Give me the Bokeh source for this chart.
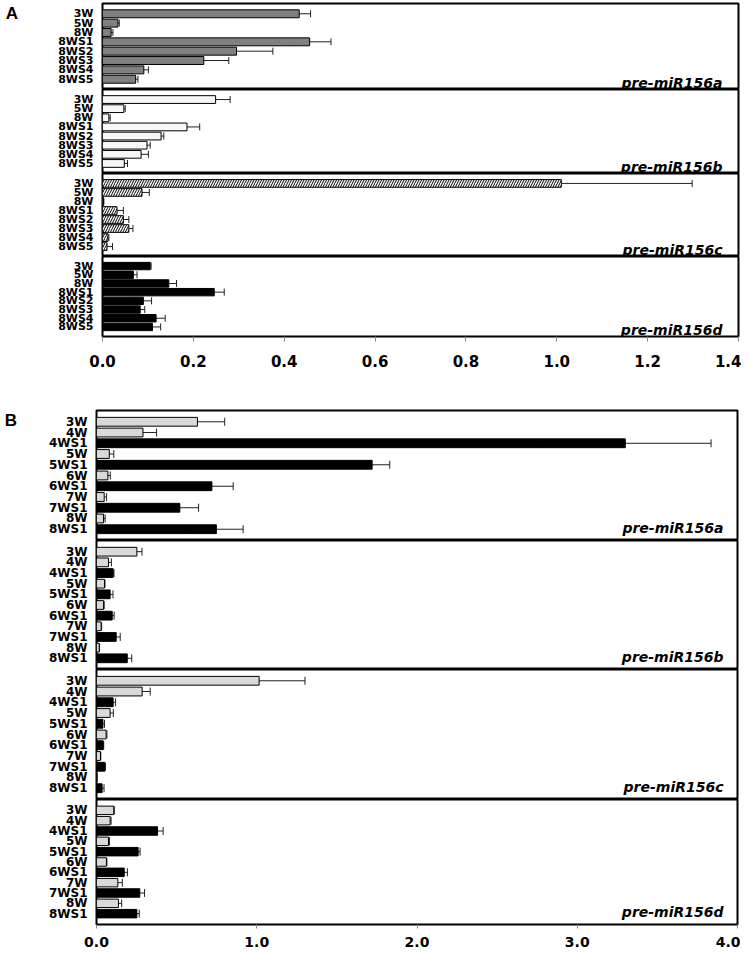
from bokeh.plotting import figure
from bokeh.models import (FactorRange, Range1d, FixedTicker, NumeralTickFormatter,
                          Whisker, TeeHead, ColumnDataSource, Label)
from bokeh.layouts import column
from bokeh.embed import file_html
from bokeh.resources import INLINE

# ---------------- data ----------------
a_samples = ["3W", "5W", "8W", "8WS1", "8WS2", "8WS3", "8WS4", "8WS5"]
a_156a = [0.433, 0.034, 0.019, 0.456, 0.295, 0.223, 0.091, 0.073]
a_156a_sd = [0.025, 0.003, 0.004, 0.047, 0.080, 0.055, 0.010, 0.005]
a_156b = [0.249, 0.047, 0.014, 0.186, 0.129, 0.098, 0.085, 0.048]
a_156b_sd = [0.032, 0.003, 0.003, 0.028, 0.006, 0.007, 0.016, 0.007]
a_156c = [1.010, 0.087, 0.002, 0.032, 0.046, 0.058, 0.012, 0.010]
a_156c_sd = [0.288, 0.016, 0.001, 0.014, 0.012, 0.009, 0.002, 0.012]
a_156d = [0.105, 0.068, 0.146, 0.246, 0.090, 0.083, 0.118, 0.110]
a_156d_sd = [0.002, 0.008, 0.017, 0.022, 0.018, 0.010, 0.020, 0.018]

b_samples = ["3W", "4W", "4WS1", "5W", "5WS1", "6W", "6WS1", "7W", "7WS1", "8W", "8WS1"]
b_156a = [0.630, 0.290, 3.300, 0.080, 1.720, 0.071, 0.720, 0.048, 0.520, 0.044, 0.748]
b_156a_sd = [0.170, 0.085, 0.535, 0.028, 0.110, 0.015, 0.133, 0.015, 0.117, 0.010, 0.167]
b_156b = [0.252, 0.075, 0.104, 0.050, 0.085, 0.044, 0.098, 0.029, 0.123, 0.017, 0.192]
b_156b_sd = [0.032, 0.018, 0.005, 0.003, 0.018, 0.004, 0.012, 0.003, 0.025, 0.002, 0.028]
b_156c = [1.015, 0.285, 0.104, 0.085, 0.040, 0.060, 0.042, 0.025, 0.052, 0.002, 0.035]
b_156c_sd = [0.286, 0.050, 0.015, 0.020, 0.010, 0.005, 0.003, 0.002, 0.004, 0.001, 0.012]
b_156d = [0.108, 0.085, 0.381, 0.075, 0.260, 0.062, 0.173, 0.133, 0.270, 0.137, 0.252]
b_156d_sd = [0.003, 0.006, 0.035, 0.006, 0.012, 0.003, 0.020, 0.028, 0.030, 0.020, 0.015]

genes = ["pre-miR156a", "pre-miR156b", "pre-miR156c", "pre-miR156d"]
a_ticks = [0.0, 0.2, 0.4, 0.6, 0.8, 1.0, 1.2, 1.4]
b_ticks = [0.0, 1.0, 2.0, 3.0, 4.0]

FONT = "DejaVu Sans"


def make_fig(samples, vals, sds, gene, x_range, fw, fh, left, top_b, bot_b,
             fills, hatch, pad, bar_h, head, gene_dx, gene_dy, cat_font,
             ticks=None, tick_font="15px", standoff=12, tick_out=5):
    src = ColumnDataSource(dict(
        s=samples, v=vals,
        lo=[v - e for v, e in zip(vals, sds)],
        hi=[v + e for v, e in zip(vals, sds)],
        c=fills,
    ))
    p = figure(
        y_range=FactorRange(factors=samples[::-1], range_padding=pad),
        x_range=x_range, frame_width=fw, frame_height=fh,
        min_border_left=left, min_border_right=3, min_border_top=top_b,
        min_border_bottom=bot_b, output_backend="svg", toolbar_location=None,
        x_axis_location="below" if ticks is not None else None,
    )
    kw = {}
    if hatch:
        kw = dict(hatch_pattern="/", hatch_color="black", hatch_scale=5.0,
                  hatch_weight=1.0)
    p.hbar(y="s", left=0, right="v", height=bar_h, source=src, fill_color="c",
           line_color="black", line_width=1, **kw)
    w = Whisker(source=src, base="s", lower="lo", upper="hi", dimension="width",
                line_color="#222222", line_width=1,
                upper_head=TeeHead(size=head, line_color="#222222", line_width=1),
                lower_head=TeeHead(size=head, line_color="#222222", line_width=1))
    p.add_layout(w)
    p.add_layout(Label(x=fw - gene_dx, y=gene_dy, x_units="screen", y_units="screen",
                       text=gene, text_align="right", text_baseline="alphabetic",
                       text_font=FONT, text_font_style="bold italic",
                       text_font_size="14px", text_color="black"))
    p.grid.visible = False
    p.outline_line_color = "black"
    p.outline_line_width = 2
    p.outline_line_alpha = 1.0
    p.background_fill_color = "white"
    p.border_fill_color = "white"
    ya = p.yaxis[0]
    ya.axis_line_color = None
    ya.major_tick_line_color = None
    ya.minor_tick_line_color = None
    ya.major_label_standoff = 3
    ya.major_label_text_font = FONT
    ya.major_label_text_font_style = "bold"
    ya.major_label_text_font_size = cat_font
    ya.major_label_text_color = "black"
    if ticks is not None:
        xa = p.xaxis[0]
        xa.ticker = FixedTicker(ticks=ticks)
        xa.formatter = NumeralTickFormatter(format="0.0")
        xa.axis_line_color = None
        xa.major_tick_line_color = "#888888"
        xa.major_tick_out = tick_out
        xa.major_tick_in = 0
        xa.minor_tick_line_color = None
        xa.major_label_standoff = standoff
        xa.major_label_text_font = FONT
        xa.major_label_text_font_style = "bold"
        xa.major_label_text_font_size = tick_font
        xa.major_label_text_color = "black"
    return p


def panel_letter(p, letter, label_standoff):
    ya = p.yaxis[0]
    ya.axis_label = "\n" + letter
    ya.axis_label_orientation = "horizontal"
    ya.axis_label_text_font = "Liberation Sans"
    ya.axis_label_text_font_style = "bold"
    ya.axis_label_text_font_size = "17px"
    ya.axis_label_text_line_height = 1.05
    ya.axis_label_text_color = "black"
    ya.axis_label_standoff = label_standoff
    try:
        ya.axis_label_align = "end"
    except Exception:
        pass


# ---------------- panel A ----------------
xa_range = Range1d(0, 1.4)
A_FW, A_LEFT = 636, 102
A_FH = [86, 84, 83, 80]
a_data = [(a_156a, a_156a_sd), (a_156b, a_156b_sd), (a_156c, a_156c_sd), (a_156d, a_156d_sd)]
a_colors = ["#808080", "#f7f7f7", "white", "black"]
a_figs = []
for i, (vals, sds) in enumerate(a_data):
    last = i == 3
    p = make_fig(a_samples, vals, sds, genes[i], xa_range, A_FW, A_FH[i], A_LEFT,
                 3 if i == 0 else 0, 40 if last else 0,
                 [a_colors[i]] * len(a_samples), i == 2, 0.15, 0.85, 7, 16, 7, "11px",
                 ticks=a_ticks if last else None, tick_font="15px", standoff=13)
    if i == 0:
        panel_letter(p, "A", 37)
    a_figs.append(p)

# ---------------- panel B ----------------
xb_range = Range1d(0, 4.0)
B_FW, B_LEFT = 641, 96
B_FH = [130, 129, 130, 125]
b_data = [(b_156a, b_156a_sd), (b_156b, b_156b_sd), (b_156c, b_156c_sd), (b_156d, b_156d_sd)]
b_fill = ["black" if "WS" in s else "#d9d9d9" for s in b_samples]
b_figs = []
for i, (vals, sds) in enumerate(b_data):
    last = i == 3
    p = make_fig(b_samples, vals, sds, genes[i], xb_range, B_FW, B_FH[i], B_LEFT,
                 34 if i == 0 else 0, 29 if last else 0,
                 b_fill, False, 0.1, 0.82, 8, 14, 13, "12px",
                 ticks=b_ticks if last else None, tick_font="14px", standoff=8,
                 tick_out=4)
    if i == 0:
        panel_letter(p, "B", 29)
    b_figs.append(p)

layout = column(column(*a_figs, spacing=0), column(*b_figs, spacing=0), spacing=0)
open("out.html", "w").write(file_html(layout, INLINE))
